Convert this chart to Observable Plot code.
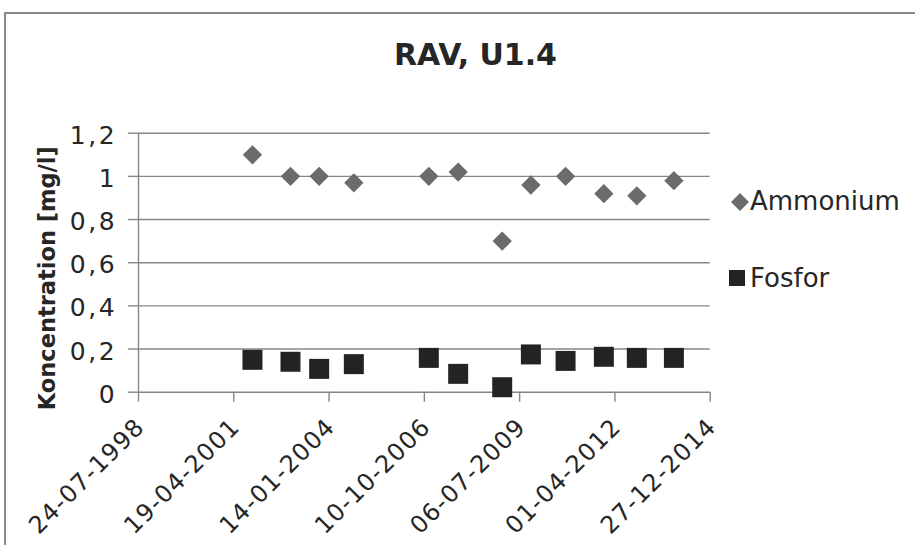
<!DOCTYPE html>
<html>
<head>
<meta charset="utf-8">
<script src="https://cdn.jsdelivr.net/npm/d3@7"></script>
<script src="https://cdn.jsdelivr.net/npm/@observablehq/plot@0.6"></script>
<style>
  html, body { margin: 0; padding: 0; background: #fff; }
  #wrap { position: relative; width: 915px; height: 545px; overflow: hidden;
          font-family: "DejaVu Sans", Verdana, sans-serif; color: #262626; }
  #border { position: absolute; left: 4px; top: 12px; width: 940px; height: 600px;
            border-top: 2px solid #8a8a8a; border-left: 2px solid #8a8a8a; }
  #chart { position: absolute; left: 0; top: 0; }
  #title { position: absolute; left: 0; width: 951px; top: 40px; text-align: center;
           font-size: 30px; font-weight: bold; line-height: 30px; white-space: nowrap; }
  .lg-text { position: absolute; left: 750px; font-size: 26px; line-height: 26px; white-space: nowrap; }
  .lg-sym { position: absolute; }
  g[aria-label="y-axis tick label"] text { letter-spacing: 2.6px; }
  g[aria-label="x-axis tick label"] text { letter-spacing: 1.2px; }
</style>
</head>
<body>
<div id="wrap">
  <div id="border"></div>
  <div id="chart"></div>
  <div id="title"></div>
  <div id="legend"></div>
</div>
<script>
// ---- data ----
const title = "RAV, U1.4";
const yLabel = "Koncentration [mg/l]";
const seriesNames = ["Ammonium", "Fosfor"];
const sampleDates = ["2001-11-01","2002-12-05","2003-10-02","2004-09-30","2006-11-26","2007-09-30",
                     "2009-01-04","2009-11-01","2010-10-31","2011-12-07","2012-11-17","2013-12-11"];
const ammonium = [1.10, 1.00, 1.00, 0.97, 1.00, 1.02, 0.70, 0.96, 1.00, 0.92, 0.91, 0.98];
const fosfor   = [0.150, 0.141, 0.108, 0.130, 0.159, 0.085, 0.023, 0.175, 0.145, 0.164, 0.159, 0.159];
const xTickDates = ["1998-07-24","2001-04-19","2004-01-14","2006-10-10","2009-07-06","2012-04-01","2014-12-27"];
const yTicks = [0, 0.2, 0.4, 0.6, 0.8, 1, 1.2];
const yDomain = [0, 1.2];

// ---- build ----
const parse = d3.utcParse("%Y-%m-%d");
const fmtDate = d3.utcFormat("%d-%m-%Y");
const xTicks = xTickDates.map(parse);
const ammRows = sampleDates.map((d, i) => ({date: parse(d), value: ammonium[i]}));
const fosRows = sampleDates.map((d, i) => ({date: parse(d), value: fosfor[i]}));
const gridColor = "#868686";
const textColor = "#262626";
const fmtY = d => String(d).replace(".", ",");

const chart = Plot.plot({
  width: 915,
  height: 545,
  marginLeft: 138,
  marginRight: 205.3,
  marginTop: 132.7,
  marginBottom: 153.3,
  style: {fontFamily: "'DejaVu Sans', Verdana, sans-serif", background: "transparent", color: textColor, overflow: "visible"},
  x: {type: "utc", domain: [xTicks[0], xTicks[xTicks.length - 1]], label: null},
  y: {domain: yDomain, label: null},
  marks: [
    Plot.gridY(yTicks, {stroke: gridColor, strokeOpacity: 1, strokeWidth: 1.4}),
    Plot.ruleX([xTicks[0]], {stroke: gridColor, strokeWidth: 1.4}),
    // tick marks
    Plot.axisY(yTicks, {tickSize: 10, stroke: gridColor, strokeWidth: 1.4, tickFormat: () => "", label: null}),
    Plot.axisX(xTicks, {tickSize: 10, stroke: gridColor, strokeWidth: 1.4, tickFormat: () => "", label: null}),
    // tick labels
    Plot.axisY(yTicks, {
      tickSize: 0, tickPadding: 21.3, fontSize: 25, dy: 2.6, fill: textColor,
      tickFormat: fmtY, label: null
    }),
    Plot.axisX(xTicks, {
      tickSize: 0, tickPadding: 30.6, tickRotate: -45, fontSize: 24, dx: 2,
      fill: textColor, tickFormat: fmtDate, label: null
    }),
    Plot.text([yLabel], {
      text: d => d, frameAnchor: "left", dx: -91, dy: 15.5, rotate: -90,
      textAnchor: "middle", lineAnchor: "middle",
      fontSize: 22.5, fontWeight: "bold", fill: textColor
    }),
    Plot.dot(ammRows, {x: "date", y: "value", symbol: "diamond2", r: 8.7, fill: "#6b6b6b", stroke: "none"}),
    Plot.dot(fosRows, {x: "date", y: "value", symbol: "square", r: 11.28, fill: "#232323", stroke: "none"})
  ]
});
document.getElementById("chart").append(chart);
document.getElementById("title").textContent = title;

// ---- legend ----
const legend = document.getElementById("legend");
const lgSpecs = [
  {name: seriesNames[0], color: "#6b6b6b", shape: "diamond", top: 188, sx: 731, sy: 193, size: 18},
  {name: seriesNames[1], color: "#232323", shape: "square", top: 265, sx: 728.5, sy: 270, size: 16}
];
for (const s of lgSpecs) {
  const svg = d3.create("svg").attr("class", "lg-sym").attr("width", s.size).attr("height", s.size)
    .style("left", s.sx + "px").style("top", s.sy + "px");
  const h = s.size / 2;
  if (s.shape === "diamond") {
    svg.append("polygon").attr("points", `${h},0 ${s.size},${h} ${h},${s.size} 0,${h}`).attr("fill", s.color);
  } else {
    svg.append("rect").attr("width", s.size).attr("height", s.size).attr("fill", s.color);
  }
  legend.append(svg.node());
  const t = document.createElement("div");
  t.className = "lg-text";
  t.style.top = s.top + "px";
  t.textContent = s.name;
  legend.append(t);
}
</script>
</body>
</html>
